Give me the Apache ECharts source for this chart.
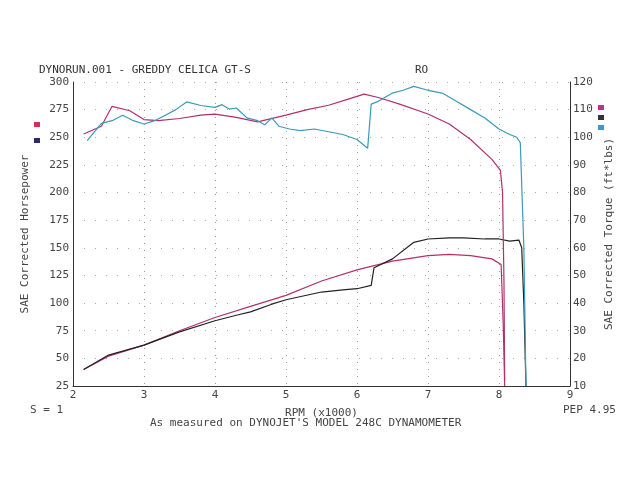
<!DOCTYPE html>
<html><head><meta charset="utf-8">
<script src="https://cdn.jsdelivr.net/npm/echarts@6/dist/echarts.min.js"></script>
<style>html,body{margin:0;background:#fff}#c{width:640px;height:480px}</style>
</head><body><div id="c"></div>
<script>
const hpMagenta=[[2.15,40],[2.5,52],[3.0,62],[3.5,75],[4.0,87],[4.5,97],[5.0,107],[5.5,120],[6.0,130],[6.5,138],[7.0,143],[7.3,144],[7.6,143],[7.9,140],[8.03,135],[8.06,80],[8.08,25]];
const hpBlack=[[2.15,40],[2.5,53],[3.0,62],[3.5,74],[4.0,84],[4.3,89],[4.5,92],[4.8,99],[5.0,103],[5.5,110],[5.8,112],[6.0,113],[6.2,116],[6.24,132],[6.5,140],[6.8,155],[7.0,158],[7.3,159],[7.5,159],[7.8,158],[8.0,158],[8.15,156],[8.28,157],[8.32,150],[8.35,100],[8.38,25]];
const tqMagenta=[[2.15,101.2],[2.4,104],[2.55,111.2],[2.8,109.6],[3.0,106.4],[3.2,106],[3.5,106.8],[3.8,108],[4.0,108.4],[4.3,107.2],[4.6,105.6],[5.0,108],[5.3,110],[5.6,111.6],[5.9,114],[6.1,115.6],[6.3,114.4],[6.6,112],[7.0,108.4],[7.3,104.8],[7.6,99.2],[7.9,92],[8.02,88],[8.05,80],[8.07,48],[8.08,12]];
const tqCyan=[[2.2,98.8],[2.4,105],[2.55,106],[2.7,108],[2.85,106],[3.0,104.8],[3.15,106],[3.3,108],[3.45,110],[3.6,112.8],[3.8,111.5],[4.0,110.8],[4.1,111.8],[4.2,110.2],[4.3,110.6],[4.45,107],[4.6,106],[4.7,104.5],[4.8,107],[4.9,104],[5.05,103],[5.2,102.4],[5.4,103],[5.6,102],[5.8,101],[6.0,99.2],[6.15,96],[6.2,112],[6.3,113],[6.5,116],[6.65,117],[6.8,118.4],[7.0,117],[7.2,116],[7.4,113],[7.6,110],[7.8,107],[8.0,103],[8.15,101],[8.25,100],[8.3,98],[8.35,60],[8.38,10]];
const W=1.2;
const ax={fontFamily:'DejaVu Sans Mono',color:'#444',fontSize:11};
const chart=echarts.init(document.getElementById('c'));
chart.setOption({
 animation:false,backgroundColor:'#fff',
 grid:{left:73,right:70,top:82,bottom:94},
 title:[{text:'DYNORUN.001 - GREDDY CELICA GT-S',left:34,top:60,textStyle:{fontFamily:'DejaVu Sans Mono',fontWeight:'normal',fontSize:11,color:'#333'}},
   {text:'RO',left:410,top:60,textStyle:{fontFamily:'DejaVu Sans Mono',fontWeight:'normal',fontSize:11,color:'#333'}}],
 graphic:[
  {type:'text',left:30,top:405,style:{text:'S = 1',font:'11px DejaVu Sans Mono',fill:'#444'}},
  {type:'text',left:563,top:405,style:{text:'PEP 4.95',font:'11px DejaVu Sans Mono',fill:'#444'}},
  {type:'text',left:150,top:418,style:{text:"As measured on DYNOJET'S MODEL 248C DYNAMOMETER",font:'11px DejaVu Sans Mono',fill:'#444'}},
  {type:'rect',shape:{x:34,y:122,width:6,height:5},style:{fill:'#d0305a'}},
  {type:'rect',shape:{x:34,y:138,width:6,height:5},style:{fill:'#2a2a70'}},
  {type:'rect',shape:{x:598,y:105,width:6,height:5},style:{fill:'#c0308a'}},
  {type:'rect',shape:{x:598,y:115,width:6,height:5},style:{fill:'#333'}},
  {type:'rect',shape:{x:598,y:125,width:6,height:5},style:{fill:'#3a9ad0'}}
 ],
 xAxis:{type:'value',min:2,max:9,interval:1,name:'RPM (x1000)',nameLocation:'middle',nameGap:22,nameTextStyle:ax,
   axisLabel:Object.assign({margin:4},ax),axisLine:{lineStyle:{color:'#333'}},axisTick:{show:false},
   splitLine:{lineStyle:{type:[1,6],color:'#999'}}},
 yAxis:[{type:'value',min:25,max:300,interval:25,name:'SAE Corrected Horsepower',nameLocation:'middle',nameGap:42,nameRotate:90,nameTextStyle:ax,
   axisLabel:Object.assign({margin:4},ax),axisLine:{show:true,lineStyle:{color:'#333'}},axisTick:{show:false},
   splitLine:{lineStyle:{type:[1,10],color:'#aaa'}}},
  {type:'value',min:10,max:120,interval:10,name:'SAE Corrected Torque (ft*lbs)',nameLocation:'middle',nameGap:30,nameRotate:90,nameTextStyle:ax,
   axisLabel:Object.assign({margin:3},ax),axisLine:{show:true,lineStyle:{color:'#333'}},axisTick:{show:false},splitLine:{show:false}}],
 series:[
  {type:'line',data:hpMagenta,yAxisIndex:0,showSymbol:false,lineStyle:{color:'#b03070',width:W}},
  {type:'line',data:hpBlack,yAxisIndex:0,showSymbol:false,lineStyle:{color:'#222',width:W}},
  {type:'line',data:tqMagenta,yAxisIndex:1,showSymbol:false,lineStyle:{color:'#b03070',width:W}},
  {type:'line',data:tqCyan,yAxisIndex:1,showSymbol:false,lineStyle:{color:'#3a9ab8',width:W}}
 ]
});
</script></body></html>
